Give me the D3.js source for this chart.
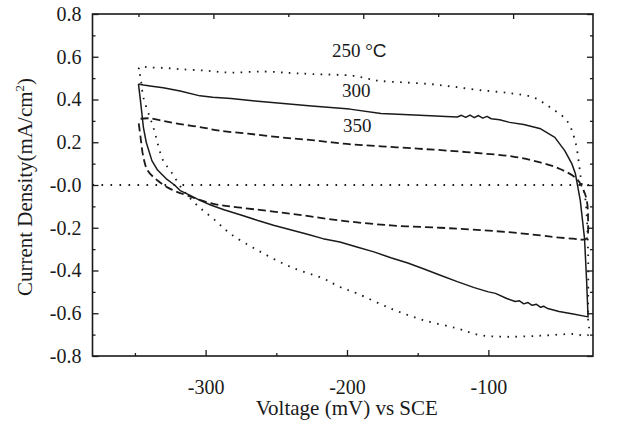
<!DOCTYPE html>
<html><head><meta charset="utf-8">
<script src="https://cdn.jsdelivr.net/npm/d3@7"></script>
<style>
html,body{margin:0;padding:0;background:#fff;}
svg{display:block;}
</style></head>
<body>
<svg id="chart" width="635" height="422"></svg>
<script>
// ---- data (voltage in mV vs SCE, current density in mA/cm^2) ----
const v250 = [-347.5,-346,-340,-330,-318,-300,-282.5,-259,-240,-224,-195.5,-185,-176.5,-160,-141,-125,-106,-85,-68.3,-56.3,-44.5,-38.7,-35.6,-34,-31.6,-29.5,-29.5,-29.5,-40,-63,-87,-106,-122,-146,-169,-193,-205,-217,-240,-263,-282.5,-294.5,-305.8,-315.7,-325,-330,-337,-344,-346,-347.5];
const j250 = [0.542,0.555,0.55,0.548,0.542,0.535,0.526,0.531,0.524,0.519,0.511,0.497,0.487,0.48,0.472,0.46,0.444,0.43,0.41,0.363,0.301,0.208,0.083,0.007,-0.057,-0.306,-0.617,-0.702,-0.697,-0.705,-0.71,-0.702,-0.671,-0.632,-0.578,-0.507,-0.477,-0.437,-0.383,-0.306,-0.228,-0.158,-0.096,-0.026,0.068,0.114,0.27,0.41,0.503,0.542];

const v300 = [-347.5,-344,-338,-330,-318,-304,-295,-282,-265,-247,-225,-198,-176,-160,-141,-130,-122,-119,-116,-113,-110,-107,-104,-101,-98,-92,-85,-75,-63,-53,-46,-41,-38.5,-35,-32,-30.5,-29.5,-40,-50,-58,-61,-63,-66,-69,-72,-75,-78,-81,-87,-95,-100,-110,-122,-134,-146,-157,-169,-181,-193,-205,-217,-228,-240,-252,-263,-275,-287,-296,-304,-312,-318,-322,-328,-334,-338,-342,-344,-346,-347.5];
const j300 = [0.473,0.468,0.462,0.455,0.44,0.417,0.41,0.405,0.393,0.382,0.37,0.355,0.335,0.33,0.324,0.32,0.318,0.326,0.316,0.327,0.315,0.325,0.313,0.321,0.31,0.305,0.293,0.283,0.263,0.223,0.161,0.1,0.054,-0.072,-0.25,-0.45,-0.617,-0.604,-0.592,-0.578,-0.567,-0.572,-0.558,-0.563,-0.55,-0.556,-0.542,-0.545,-0.531,-0.507,-0.5,-0.48,-0.452,-0.422,-0.392,-0.365,-0.34,-0.313,-0.29,-0.267,-0.251,-0.23,-0.209,-0.188,-0.166,-0.14,-0.116,-0.095,-0.072,-0.045,-0.026,0,0.03,0.07,0.114,0.2,0.27,0.39,0.473];

const v350 = [-346,-340,-330,-318,-303,-290,-270,-247,-225,-200,-176,-150,-129,-105,-82.5,-63.4,-49.3,-37.5,-33,-30.4,-29.5,-30.5,-34,-40,-52,-63,-87,-111,-134,-169,-205,-240,-275,-294.5,-313,-325,-334,-341,-344,-346,-347.5];
const j350 = [0.31,0.312,0.3,0.285,0.27,0.254,0.24,0.223,0.21,0.192,0.181,0.17,0.161,0.148,0.133,0.106,0.075,0.029,-0.02,-0.072,-0.16,-0.251,-0.256,-0.251,-0.245,-0.236,-0.22,-0.209,-0.2,-0.189,-0.166,-0.134,-0.106,-0.088,-0.049,-0.018,0.021,0.068,0.13,0.223,0.30];

const seriesNames = ["250 °C", "300", "350"];
const xTickValues = [-300, -200, -100];
const xMinorTicks = [-350, -250, -150];
const topTickValues = [-347.5, -294.5, -241.5, -188.5, -135.5, -82.5];
const yTickValues = [-0.8, -0.6, -0.4, -0.2, 0, 0.2, 0.4, 0.6, 0.8];
const yMinorTicks = [-0.7, -0.5, -0.3, -0.1, 0.1, 0.3, 0.5, 0.7];
const xTitle = "Voltage (mV) vs SCE";

// ---- layout ----
const L = 92.5, R = 593, T = 14, B = 356;
const SERIF = "'Liberation Serif', 'Times New Roman', Times, serif";
const SANS = "'Liberation Sans', Arial, sans-serif";
const svg = d3.select("#chart");
svg.append("rect").attr("width",635).attr("height",422).attr("fill","#fff");

const x = d3.scaleLinear().domain([-380, -26]).range([L, R]);
const y = d3.scaleLinear().domain([-0.8, 0.8]).range([B, T]);

const fsTick = 20, fsLab = 19, fsTitle = 21;
const ink = "#1a1a1a";
const hy = s => String(s).replace("\u2212", "-");

// axes (ticks inward)
const gB = svg.append("g").attr("transform",`translate(0,${B})`)
  .call(d3.axisBottom(x).tickValues(xTickValues).tickSize(-6).tickPadding(24).tickFormat(d => hy(d3.format("d")(d))));
const gBm = svg.append("g").attr("transform",`translate(0,${B})`)
  .call(d3.axisBottom(x).tickValues(xMinorTicks).tickSize(-3).tickFormat(""));
const gT = svg.append("g").attr("transform",`translate(0,${T})`)
  .call(d3.axisTop(x).tickValues(topTickValues).tickSize(0).tickFormat(""));
gT.selectAll(".tick line").attr("y2",(d,i)=> i%2===1 ? 5 : 3);
const gL = svg.append("g").attr("transform",`translate(${L},0)`)
  .call(d3.axisLeft(y).tickValues(yTickValues).tickSize(-6).tickPadding(11)
    .tickFormat(d => d===0 ? "-0.0" : hy(d3.format(".1f")(d))));
const gLm = svg.append("g").attr("transform",`translate(${L},0)`)
  .call(d3.axisLeft(y).tickValues(yMinorTicks).tickSize(-3).tickFormat(""));
const gR = svg.append("g").attr("transform",`translate(${R},0)`)
  .call(d3.axisRight(y).tickValues(yTickValues).tickSize(-6).tickFormat(""));
const gRm = svg.append("g").attr("transform",`translate(${R},0)`)
  .call(d3.axisRight(y).tickValues(yMinorTicks).tickSize(-3).tickFormat(""));

[gB,gBm,gT,gL,gLm,gR,gRm].forEach(g=>{
  g.attr("font-family", SERIF).attr("font-size", fsTick);
  g.select(".domain").remove();
  g.selectAll(".tick line").attr("stroke",ink).attr("stroke-width",1.3);
  g.selectAll(".tick text").attr("fill",ink)
    .style("font-family", SERIF).style("font-size", fsTick + "px");
});

// frame
svg.append("rect").attr("x",L).attr("y",T).attr("width",R-L).attr("height",B-T)
  .attr("fill","none").attr("stroke",ink).attr("stroke-width",1.6);

// zero line
svg.append("line").attr("x1",L).attr("x2",R).attr("y1",y(0)).attr("y2",y(0))
  .attr("stroke",ink).attr("stroke-width",1.8).attr("stroke-dasharray","1.6,7.4");

// curves
const line = d3.line().x(d=>x(d[0])).y(d=>y(d[1])).curve(d3.curveCatmullRom.alpha(0.5));
const lineLin = d3.line().x(d=>x(d[0])).y(d=>y(d[1]));
const zip = (a,b)=>a.map((v,i)=>[v,b[i]]);

svg.append("path").datum(zip(v250,j250)).attr("d",line)
  .attr("fill","none").attr("stroke",ink).attr("stroke-width",1.8).attr("stroke-dasharray","1.6,6.4");
svg.append("path").datum(zip(v350,j350)).attr("d",line)
  .attr("fill","none").attr("stroke",ink).attr("stroke-width",1.8).attr("stroke-dasharray","8,4");
svg.append("path").datum(zip(v300,j300)).attr("d",lineLin)
  .attr("fill","none").attr("stroke",ink).attr("stroke-width",1.5).attr("stroke-linejoin","round");

// series labels
const lab = svg.append("g");
const t250 = lab.append("text").attr("x",332).attr("y",57).attr("fill",ink)
  .style("font-family",SERIF).style("font-size",fsLab+"px");
t250.append("tspan").text(seriesNames[0].slice(0,-1));
t250.append("tspan").style("font-family",SANS).text(seriesNames[0].slice(-1));
lab.append("text").attr("x",342).attr("y",97).attr("fill",ink)
  .style("font-family",SERIF).style("font-size",fsLab+"px").text(seriesNames[1]);
lab.append("text").attr("x",343).attr("y",132).attr("fill",ink)
  .style("font-family",SERIF).style("font-size",fsLab+"px").text(seriesNames[2]);

// axis titles
svg.append("text").attr("x",(L+R)/2 + 4).attr("y",415).attr("text-anchor","middle").attr("fill",ink)
  .style("font-family",SERIF).style("font-size",fsTitle+"px").text(xTitle);
const yt = svg.append("text").attr("transform",`translate(32,${(T+B)/2 + 2}) rotate(-90)`)
  .attr("text-anchor","middle").attr("fill",ink)
  .style("font-family",SERIF).style("font-size",fsTitle+"px");
yt.append("tspan").text("Current Density(mA/cm");
yt.append("tspan").style("font-size","13px").attr("dy",-8).text("2");
yt.append("tspan").attr("dy",8).text(")");
</script>
</body></html>
